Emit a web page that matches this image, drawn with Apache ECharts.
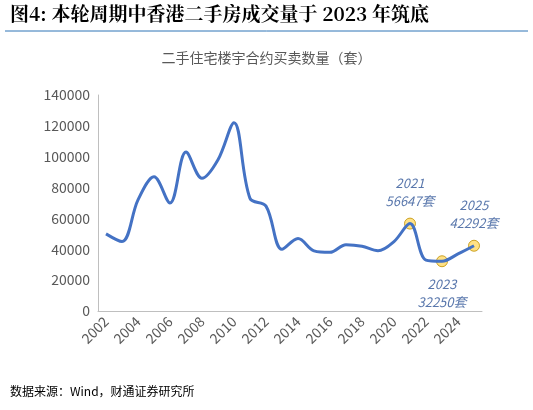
<!DOCTYPE html>
<html><head><meta charset="utf-8">
<script src="https://cdn.jsdelivr.net/npm/echarts@6/dist/echarts.min.js"></script>
<style>body{margin:0;background:#fff}#c{width:533px;height:410px}</style>
</head><body><div id="c"></div>
<script>
var years = ['2002','2003','2004','2005','2006','2007','2008','2009','2010','2011','2012','2013','2014','2015','2016','2017','2018','2019','2020','2021','2022','2023','2024','2025'];
var deals = [50000,45000,72000,87000,70000,103000,86000,98000,122000,73000,68000,40000,47000,39000,38000,43000,42000,39000,45000,56647,33000,32250,37000,42292];
var marked = {'2021':'2021\n56647套','2023':'2023\n32250套','2025':'2025\n42292套'};

var pts = [];
for (var i = 0; i < years.length; i++) {
	if (marked[years[i]]) {
		pts.push({value:[years[i],deals[i]],label:marked[years[i]],pos:years[i]=='2023'?'bottom':'top'});
	}
}
var font = '"Noto Sans CJK SC", sans-serif';
var chart = echarts.init(document.getElementById('c'));
chart.setOption({
	animation:false,
	graphic:[
		{type:'text',left:10,top:4,style:{text:'图4: 本轮周期中香港二手房成交量于 2023 年筑底',font:'bold 19px "Noto Serif CJK SC", "Noto Sans CJK SC", serif',fill:'#000'}},
		{type:'line',shape:{x1:5,y1:31,x2:528,y2:31},style:{stroke:'#2e75b6',lineWidth:1}},
		{type:'text',left:10,top:385,style:{text:'数据来源：Wind，财通证券研究所',font:'12px '+font,fill:'#000'}}
	],
	title:{text:'二手住宅楼宇合约买卖数量（套）',left:'center',top:46,textStyle:{fontFamily:font,fontSize:14,fontWeight:'normal',color:'#595959'}},
	grid:{left:98,right:51,top:95,bottom:99},
	xAxis:{type:'category',data:years,boundaryGap:true,
		axisLine:{lineStyle:{color:'#bfbfbf'}},axisTick:{show:false},
		axisLabel:{interval:1,rotate:45,color:'#595959',fontSize:14,fontFamily:font,margin:8}},
	yAxis:{type:'value',min:0,max:140000,interval:20000,
		axisLine:{show:true,lineStyle:{color:'#bfbfbf'}},splitLine:{show:false},
		axisLabel:{color:'#595959',fontSize:14,fontFamily:font,formatter:function(v){return String(v);}}},
	series:[
		{type:'line',data:deals,smooth:0.35,showSymbol:false,lineStyle:{color:'#4472c4',width:3}},
		{type:'scatter',data:pts.map(function(p){return {value:p.value,label:{show:true,formatter:p.label,position:p.pos,distance:8}};}),
			symbolSize:11,itemStyle:{color:'#ffd966',borderColor:'#bf9000',borderWidth:1},
			label:{color:'#2f5597',fontStyle:'italic',fontSize:13,fontFamily:font,lineHeight:18,align:'center'}}
	]
});
</script></body></html>
